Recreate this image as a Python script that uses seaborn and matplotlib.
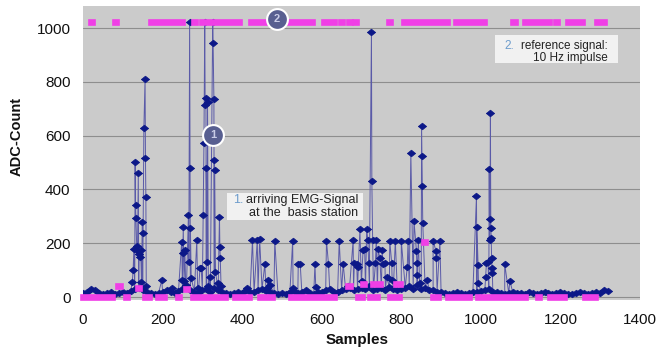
import matplotlib
matplotlib.use("Agg")
import matplotlib.pyplot as plt
from matplotlib.patches import Rectangle
import numpy as np
import pandas as pd
import seaborn as sns

# blue series: EMG samples arriving at the base station
# baseline read every 10 samples (0 .. 1320)
base_x = np.arange(0, 1330, 10)
base_vals = [
    15, 18, 30, 25, 15, 12, 15, 18, 12, 15,
    18, 15, 22, 30, 35, 25, 20, 15, 12, 15,
    20, 25, 18, 15, 22, 30, 35, 25, 20, 15,
    25, 30, 20, 35, 25, 18, 15, 12, 15, 18,
    15, 25, 20, 18, 25, 30, 22, 18, 15, 12,
    15, 12, 18, 22, 15, 18, 25, 15, 12, 18,
    20, 25, 30, 20, 18, 25, 30, 35, 28, 30,
    35, 30, 40, 28, 30, 35, 25, 38, 30, 25,
    30, 35, 40, 30, 45, 30, 35, 28, 25, 20,
    18, 15, 12, 15, 18, 15, 12, 15, 20, 18,
    22, 25, 30, 20, 18, 15, 12, 15, 18, 15,
    15, 12, 18, 15, 12, 15, 18, 15, 12, 15,
    18, 15, 12, 10, 15, 18, 15, 12, 15, 18,
    15, 25, 22,
]
# spikes (sample, ADC count)
spike_x = [
    124, 126, 128, 131, 132, 133, 135, 137, 139, 141, 143, 145, 147, 149, 151, 153, 156, 157, 158, 159,
    198, 223,
    248, 250, 251, 252, 254, 256, 258, 265, 266, 268, 269, 270, 272, 286, 288, 294, 297,
    302, 304, 306, 307, 309, 310, 312, 313, 315, 319, 326, 327, 329, 330, 331, 333, 340, 343, 344, 345, 347,
    411, 426, 438, 444, 457, 462, 466, 470, 482, 527, 528, 541, 546, 583, 585, 612, 617,
    644, 654, 667, 679, 682, 688, 692, 696, 700, 704, 708, 713, 716, 720, 725, 726, 728, 735, 737,
    742, 746, 752, 754, 759, 763, 771, 776, 777, 785, 800, 815, 817, 824, 832, 838, 839, 840, 843,
    846, 851, 852, 853, 854, 865, 880, 887, 888, 897,
    989, 990, 993, 994, 1012, 1014, 1018, 1021, 1022, 1023, 1024, 1025, 1026, 1027, 1028, 1029, 1060, 1073,
]
spike_vals = [
    57, 100, 180, 503, 342, 292, 190, 170, 460, 160, 150, 175, 55, 280, 237, 627, 810, 516, 373, 40,
    63, 33,
    206, 65, 164, 261, 60, 175, 45, 305, 131, 1023, 478, 255, 70, 212, 35, 108, 108,
    305, 572, 1023, 714, 740, 478, 131, 725, 40, 75, 1023, 945, 737, 509, 472, 94, 51, 299, 187, 144, 40,
    33, 212, 212, 215, 123, 33, 63, 45, 209, 209, 33, 123, 123, 123, 38, 209, 123,
    209, 123, 40, 212, 125, 123, 113, 252, 60, 175, 177, 252, 212, 125, 986, 431, 212, 125, 212,
    177, 144, 175, 123, 125, 75, 209, 125, 63, 209, 209, 113, 209, 534, 282, 172, 126, 82, 212,
    52, 636, 524, 413, 274, 63, 209, 172, 144, 209,
    377, 261, 119, 51, 75, 125, 130, 475, 212, 289, 685, 258, 220, 144, 108, 89, 123, 61,
]

# magenta series: 10 Hz reference impulse (runs of samples at one level)
ref_start = [
    0, 20, 50, 81, 112, 170, 279, 298, 422, 520, 607, 648, 669, 684, 708, 769, 793,
    808, 937, 1080, 1110, 1188, 1218, 1293,
    0, 108, 156, 189, 239, 277, 382, 445, 523, 691, 721, 771, 880, 918, 993, 1143, 1174, 1262,
    88, 138, 259, 666, 703, 729, 787, 858,
]
ref_end = [
    1, 23, 51, 82, 113, 249, 281, 393, 455, 576, 631, 651, 670, 685, 709, 771, 794,
    915, 1008, 1086, 1171, 1191, 1254, 1310,
    72, 110, 165, 203, 241, 356, 417, 474, 632, 700, 738, 793, 892, 969, 1110, 1145, 1208, 1286,
    92, 140, 261, 670, 706, 746, 796, 860,
]
ref_level = [1023] * 24 + [0] * 18 + [40, 35, 30, 40, 50, 50, 50, 205]

x_ticks = [0, 200, 400, 600, 800, 1000, 1200, 1400]
y_ticks = [0, 200, 400, 600, 800, 1000]

sns.set_style("whitegrid", {"axes.facecolor": "#cbcbcb", "grid.color": "#8e8e8e"})
plt.rcParams["font.family"] = ["Liberation Sans", "DejaVu Sans"]

W, H = 659, 349
fig = plt.figure(figsize=(W / 100, H / 100), dpi=100)
ax = fig.add_axes([83 / W, 1 - 300 / H, (640 - 83) / W, (300 - 6) / H])

emg = pd.DataFrame({
    "sample": np.concatenate([base_x, spike_x]),
    "adc": np.concatenate([base_vals, spike_vals]),
}).sort_values("sample", kind="stable")

diamond = [(-1, 0), (0, 0.8), (1, 0), (0, -0.8), (-1, 0)]
sns.lineplot(data=emg, x="sample", y="adc", ax=ax, sort=False, estimator=None,
             color="#5a5aa8", lw=0.7, marker=diamond, markersize=6,
             markerfacecolor="#0c1888", markeredgecolor="#0c1888", markeredgewidth=0.5,
             zorder=3, legend=False)

ref = ax.hlines(ref_level, ref_start, ref_end, colors="#f03fe6", linewidth=4.8, zorder=4, clip_on=False)
ref.set_capstyle("projecting")

ax.set_xlim(0, 1400)
ax.set_ylim(-11, 1082)
ax.set_xticks(x_ticks)
ax.set_yticks(y_ticks)
ax.grid(axis="x", visible=False)
ax.grid(axis="y", lw=0.8)
for s in ax.spines.values():
    s.set_visible(False)
ax.tick_params(length=0, labelsize=11, colors="#111111")
ax.tick_params(axis="x", pad=9)
ax.tick_params(axis="y", pad=9)
ax.set_xlabel("")
ax.set_ylabel("")

fig.text(17 / W, 1 - 137 / H, "ADC-Count", rotation=90, ha="center", va="center",
         fontsize=10.5, fontweight="bold", color="#111111")
fig.text(357 / W, 1 - 340 / H, "Samples", ha="center", va="center",
         fontsize=11, fontweight="bold", color="#111111")

# annotation boxes
for (x0, y0, x1, y1) in [(227, 193, 363, 220), (495, 35, 618, 63)]:
    fig.patches.append(Rectangle((x0 / W, 1 - y1 / H), (x1 - x0) / W, (y1 - y0) / H,
                                 transform=fig.transFigure, facecolor="#f1f1f1",
                                 edgecolor="none", zorder=6))
fig.text(243 / W, 1 - 200 / H, "1.", ha="right", va="center", fontsize=9, color="#6d9ccc", zorder=7)
fig.text(358 / W, 1 - 200 / H, "arriving EMG-Signal", ha="right", va="center", fontsize=9,
         color="#222222", zorder=7)
fig.text(358 / W, 1 - 213 / H, "at the  basis station", ha="right", va="center", fontsize=9,
         color="#222222", zorder=7)
fig.text(514 / W, 1 - 46 / H, "2.", ha="right", va="center", fontsize=8.5, color="#6d9ccc", zorder=7)
fig.text(608 / W, 1 - 46 / H, "reference signal:", ha="right", va="center", fontsize=8.5,
         color="#222222", zorder=7)
fig.text(608 / W, 1 - 58 / H, "10 Hz impulse", ha="right", va="center", fontsize=8.5,
         color="#222222", zorder=7)

# numbered badges
for bx, by, lab in [(487, 1033, "2"), (327, 602, "1")]:
    ax.plot([bx], [by], "o", ms=15, mfc="#585f90", mec="white", mew=1.5,
            zorder=8, clip_on=False)
    ax.text(bx, by, lab, ha="center", va="center", fontsize=8, fontweight="bold",
            color="#c9cce6", zorder=9)

fig.savefig("out.png", dpi=100)
